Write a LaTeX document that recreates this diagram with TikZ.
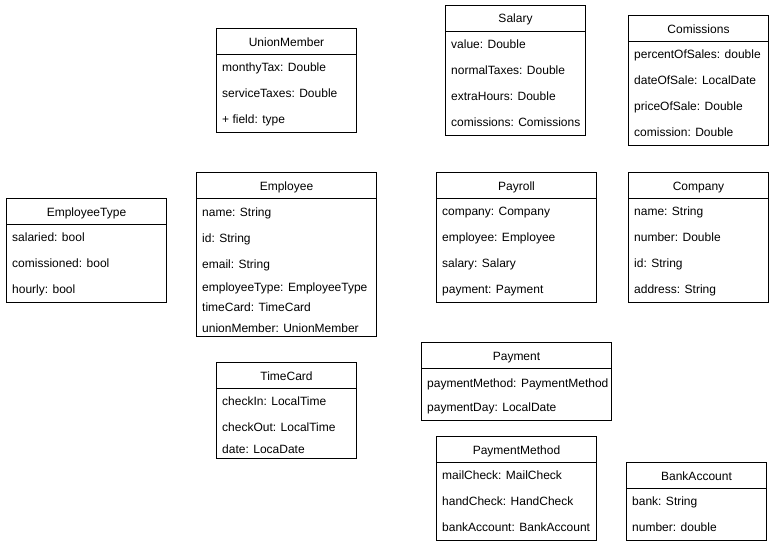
\documentclass[tikz,border=0pt]{standalone}
\usepackage{fontspec}
\setmainfont{Liberation Sans}
\usepackage{tikz}
\usetikzlibrary{calc,positioning}
\newcommand{\umlfont}{\fontsize{12}{14}\selectfont}
\tikzset{classframe/.style={draw,rectangle,inner sep=0,line width=1pt},
    classhead/.style={draw,rectangle,inner sep=0,line width=1pt,minimum height=26pt,font=\umlfont,text height=10pt,text depth=1pt},
    attrtext/.style={anchor=west,inner sep=0,font=\umlfont,text height=10pt,text depth=1pt}
}
\newcommand{\umlclass}[6]
{
% args: (name, left x, top y, width, height, title)
    \node (#1) [classframe,anchor=north west,minimum width=#4pt,minimum height=#5pt] at (#2,#3) {};
    \node (#1-head) [classhead,anchor=north west,minimum width=#4pt] at (#2,#3) {#6};
}
\newcommand{\umlattributes}[2]
{
% args: (class name, list of dy/text pairs)
    \foreach \dy/\attr [count=\i] in {#2}
        \node (#1-a\i) [attrtext] at ($(#1.north west)+(6,\dy)$) {\attr};
}
\begin{document}
\begin{tikzpicture}[x=1pt,y=-1pt]
\useasboundingbox (0,0) rectangle (772,546);

% top row
\umlclass{union}{216}{28}{140}{104}{UnionMember}
\umlattributes{union}{39/monthyTax: Double,65/serviceTaxes: Double,91/+ field: type}

\umlclass{salary}{445}{5}{140}{130}{Salary}
\umlattributes{salary}{39/value: Double,65/normalTaxes: Double,91/extraHours: Double,117/comissions: Comissions}

\umlclass{comissions}{628}{15}{140}{130}{Comissions}
\umlattributes{comissions}{39/percentOfSales: double,65/dateOfSale: LocalDate,91/priceOfSale: Double,117/comission: Double}

% middle row
\umlclass{emptype}{6}{198}{160}{104}{EmployeeType}
\umlattributes{emptype}{39/salaried: bool,65/comissioned: bool,91/hourly: bool}

\umlclass{employee}{196}{172}{180}{164}{Employee}
\umlattributes{employee}{39.5/name: String,65.5/id: String,92/email: String,115/employeeType: EmployeeType,135/timeCard: TimeCard,155.5/unionMember: UnionMember}

\umlclass{payroll}{436}{172}{160}{130}{Payroll}
\umlattributes{payroll}{39/company: Company,65/employee: Employee,91/salary: Salary,117/payment: Payment}

\umlclass{company}{628}{172}{140}{130}{Company}
\umlattributes{company}{39/name: String,65/number: Double,91/id: String,117/address: String}

% bottom row
\umlclass{timecard}{216}{362}{140}{96}{TimeCard}
\umlattributes{timecard}{39/checkIn: LocalTime,65/checkOut: LocalTime,87/date: LocaDate}

\umlclass{payment}{421}{342}{190}{78}{Payment}
\umlattributes{payment}{41/paymentMethod: PaymentMethod,65/paymentDay: LocalDate}

\umlclass{paymethod}{436}{436}{160}{104}{PaymentMethod}
\umlattributes{paymethod}{39/mailCheck: MailCheck,65/handCheck: HandCheck,91/bankAccount: BankAccount}

\umlclass{bank}{626}{462}{140}{78}{BankAccount}
\umlattributes{bank}{39/bank: String,65/number: double}

\end{tikzpicture}
\end{document}
